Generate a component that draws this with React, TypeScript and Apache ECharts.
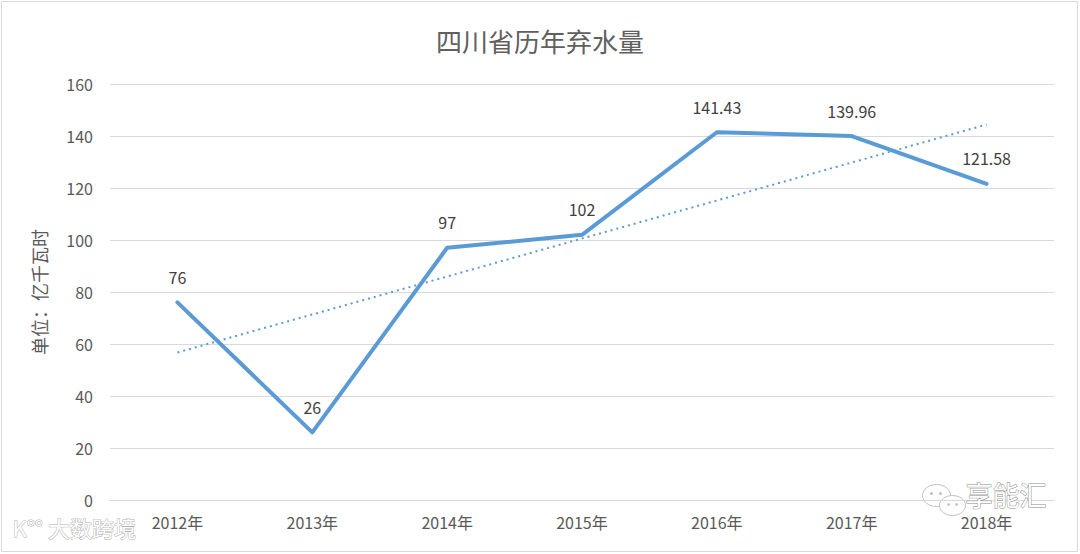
import React, { useEffect, useRef } from "react";
import * as echarts from "echarts";

const categories = ["2012年", "2013年", "2014年", "2015年", "2016年", "2017年", "2018年"];
const values = [76, 26, 97, 102, 141.43, 139.96, 121.58];
const trendValues = [56.74, null, null, null, null, null, 144.4];
const labelTexts = ["76", "26", "97", "102", "141.43", "139.96", "121.58"];
const title = "四川省历年弃水量";
const yName = "单位：亿千瓦时";

export default function App() {
  const ref = useRef<HTMLDivElement>(null);
  useEffect(() => {
    if (!ref.current) return;
    const chart = echarts.init(ref.current, undefined, { renderer: "svg" });
    const font = "'Noto Sans CJK SC', 'Noto Sans', sans-serif";
    chart.setOption({
      animation: false,
      backgroundColor: "#ffffff",
      title: {
        text: title,
        left: "center",
        top: 22,
        textStyle: { color: "#606060", fontSize: 26, fontWeight: "normal", fontFamily: font },
      },
      grid: { left: 110, right: 26, top: 84, bottom: 54 },
      xAxis: {
        type: "category",
        data: categories,
        boundaryGap: true,
        axisLine: { lineStyle: { color: "#d9d9d9", width: 1 } },
        axisTick: { show: false },
        axisLabel: { color: "#595959", fontSize: 16, fontFamily: font, margin: 14 },
      },
      yAxis: {
        type: "value",
        min: 0,
        max: 160,
        interval: 20,
        name: yName,
        nameLocation: "middle",
        nameGap: 62,
        nameRotate: 90,
        nameTextStyle: { color: "#595959", fontSize: 18, fontFamily: font },
        axisLine: { show: false },
        axisTick: { show: false },
        axisLabel: { color: "#595959", fontSize: 16, fontFamily: font, margin: 17 },
        splitLine: { lineStyle: { color: "#d9d9d9", width: 1 } },
      },
      series: [
        {
          type: "line",
          data: values,
          symbol: "circle",
          symbolSize: 1,
          showSymbol: true,
          itemStyle: { color: "rgba(91,155,213,0)" },
          lineStyle: { color: "#5B9BD5", width: 4, cap: "round", join: "round" },
          label: {
            show: true,
            position: "top",
            distance: 17,
            color: "#404040",
            fontSize: 16,
            fontFamily: font,
            formatter: (p: any) => labelTexts[p.dataIndex],
          },
          z: 3,
        },
        {
          type: "line",
          data: trendValues,
          connectNulls: true,
          symbol: "none",
          lineStyle: { color: "#5B9BD5", width: 2, type: [2, 4] },
          z: 2,
        },
      ],
      graphic: [
        {
          type: "rect",
          shape: { x: 1.5, y: 1.5, width: 1076, height: 550 },
          style: { fill: "none", stroke: "#d9d9d9", lineWidth: 1 },
          silent: true,
        },
        {
          type: "text",
          left: 12,
          top: 515,
          style: {
            text: "K°° 大数跨境",
            fill: "#ffffff",
            stroke: "#b0b0b0",
            lineWidth: 1,
            fontSize: 22,
            fontFamily: font,
          },
          silent: true,
          z: 10,
        },
        {
          type: "group",
          left: 922,
          top: 484,
          silent: true,
          z: 10,
          children: [
            { type: "ellipse", shape: { cx: 16, cy: 14, rx: 14, ry: 11 }, style: { fill: "#ffffff", stroke: "#c0c0c0", lineWidth: 1 } },
            { type: "ellipse", shape: { cx: 32, cy: 24, rx: 13, ry: 10 }, style: { fill: "#ffffff", stroke: "#c0c0c0", lineWidth: 1 } },
            { type: "circle", shape: { cx: 11, cy: 12, r: 1.5 }, style: { fill: "#c0c0c0" } },
            { type: "circle", shape: { cx: 20, cy: 12, r: 1.5 }, style: { fill: "#c0c0c0" } },
            { type: "circle", shape: { cx: 28, cy: 23, r: 1.3 }, style: { fill: "#c0c0c0" } },
            { type: "circle", shape: { cx: 36, cy: 23, r: 1.3 }, style: { fill: "#c0c0c0" } },
          ],
        },
        {
          type: "text",
          left: 965,
          top: 480,
          style: {
            text: "享能汇",
            fill: "#ffffff",
            stroke: "#8a8a8a",
            lineWidth: 1,
            fontSize: 27,
            fontFamily: font,
          },
          silent: true,
          z: 10,
        },
      ],
    });
    return () => chart.dispose();
  }, []);
  return (
    <div
      ref={ref}
      style={{ position: "absolute", left: 0, top: 0, width: 1080, height: 554 }}
    />
  );
}
